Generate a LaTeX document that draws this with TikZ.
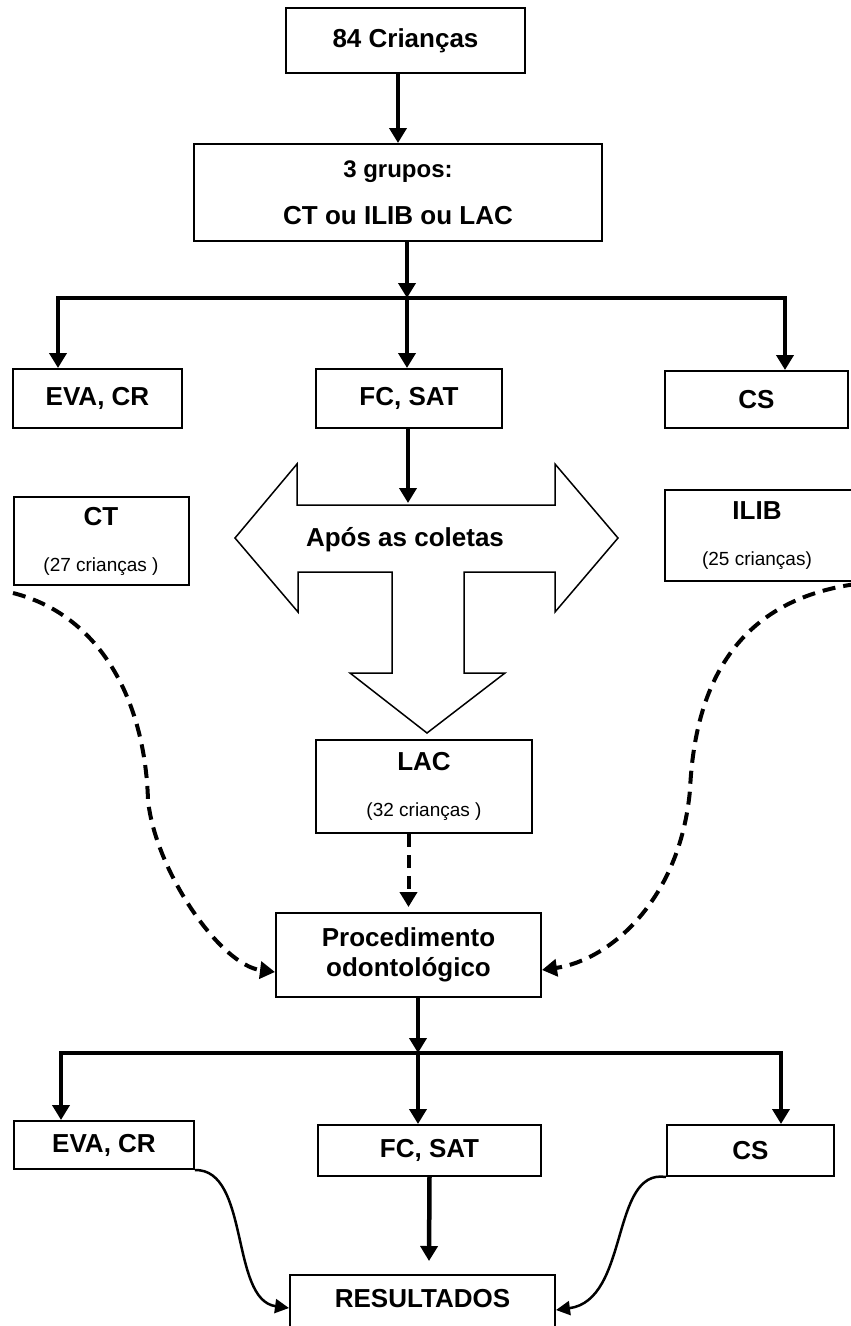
\documentclass[tikz,border=0pt]{standalone}
\usepackage{fontspec}
\setmainfont{Liberation Sans}
\usepackage{tikz}
\usetikzlibrary{arrows.meta,calc}
\newcommand{\fntbig}{\fontsize{26}{30}\selectfont\bfseries}
\newcommand{\fntsmall}{\fontsize{19}{22}\selectfont\mdseries}
\newcommand{\tip}{Triangle[width=17pt,length=15pt]}

\begin{document}
\begin{tikzpicture}[x=1pt, y=-1pt,
    box/.style={draw, line width=2pt, inner sep=0pt, align=center, font=\fntbig},
    tree/.style={line width=4.5pt, -{\tip}},
    fork/.style={line width=4pt, {\tip}-{\tip}},
    dashline/.style={line width=4pt, dash pattern=on 13pt off 8pt, -{\tip}},
    curvy/.style={line width=2.5pt, -{Triangle[width=14pt,length=14pt]}}]
    \useasboundingbox (0,0) rectangle (851,1326);

    \node[box, minimum width=239pt, minimum height=65pt] (crian) at (405.5,40.5) {84 Crianças};
    \node[box, minimum width=408pt, minimum height=97pt] (grupos) at (398,192.5) {{\fontsize{24}{30}\selectfont 3 grupos:}\\[17pt]CT ou ILIB ou LAC};

    \node[box, minimum width=169pt, minimum height=59pt] (eva1) at (97.5,398.5) {EVA, CR};
    \node[box, minimum width=186pt, minimum height=59pt] (fc1) at (409,398.5) {FC, SAT};
    \node[box, minimum width=183pt, minimum height=57pt] (cs1) at (756.5,399.5) {CS};

    \node[box, minimum width=175pt, minimum height=88pt] (ct) at (101,541) {CT\\[16pt]{\fntsmall (27 crianças )}};
    \node[box, minimum width=200pt, minimum height=91pt, anchor=west] (ilib) at (664,535.5) {\hspace*{-16pt}ILIB\\[16pt]\hspace*{-16pt}{\fntsmall (25 crianças)}};
    \node[box, minimum width=216pt, minimum height=93pt] (lac) at (424,786.5) {LAC\\[16pt]{\fntsmall (32 crianças )}};

    \draw[line width=1.5pt] (235,538) -- (297,464) -- (297,505) -- (555,505) -- (555,464) -- (618,538) -- (555,612) -- (555,572) -- (464,572) -- (464,673) -- (505,673) -- (427,733) -- (350,673) -- (392,673) -- (392,572) -- (298,572) -- (298,612) -- cycle;
    \node[font=\fntbig, anchor=base] (apos) at (405,546) {Após as coletas};

    \node[box, minimum width=265pt, minimum height=84pt] (proc) at (408.5,955) {Procedimento\\odontológico};

    \node[box, minimum width=180pt, minimum height=48pt] (eva2) at (104,1145) {EVA, CR};
    \node[box, minimum width=223pt, minimum height=51pt] (fc2) at (429.5,1150.5) {FC, SAT};
    \node[box, minimum width=167pt, minimum height=51pt] (cs2) at (750.5,1150.5) {CS};

    \node[box, minimum width=265pt, inner ysep=0pt, text height=32pt, text depth=40pt, anchor=north] (res) at (422.5,1274) {RESULTADOS};

    \coordinate (bar1) at (407,298);
    \coordinate (bar1l) at (58,298);
    \coordinate (bar1r) at (785,298);
    \coordinate (aptop) at (408,503);
    \coordinate (bar2) at (418,1053);
    \coordinate (bar2l) at (61,1053);
    \coordinate (bar2r) at (781,1053);
    \coordinate (restop) at (429,1261);
    \coordinate (ctend) at (13,593);
    \coordinate (ilibend) at (856,584);

    \draw[tree] (crian.south -| grupos.north) -- (grupos.north);
    \draw[tree] (grupos.south -| bar1) -- (bar1);
    \draw[fork] (bar1l |- eva1.north) -- (bar1l) -- (bar1r) -- (bar1r |- cs1.north);
    \draw[tree] (bar1) -- (bar1 |- fc1.north);
    \draw[tree] (fc1.south -| aptop) -- (aptop);

    \draw[dashline, shorten >=5pt] (lac.south -| proc.north) -- (proc.north);
    \draw[dashline] (ctend) .. controls (100,615) and (145,700) .. (148,800) .. controls (155,870) and (220,965) .. ([yshift=-17pt]proc.west);
    \draw[dashline] (ilibend) .. controls (740,600) and (695,680) .. (690,790) .. controls (680,900) and (610,960) .. ([yshift=-15pt]proc.east);

    \draw[tree] (proc.south -| bar2) -- (bar2);
    \draw[fork] (bar2l |- eva2.north) -- (bar2l) -- (bar2r) -- (bar2r |- cs2.north);
    \draw[tree] (bar2) -- (bar2 |- fc2.north);

    \draw[tree] (fc2.south) -- (restop);
    \draw[curvy] (eva2.south east) .. controls (250,1169) and (230,1300) .. ([yshift=-34pt]res.north west);
    \draw[curvy] (cs2.south west) .. controls (610,1168) and (630,1300) .. ([yshift=-36pt]res.north east);
\end{tikzpicture}
\end{document}
